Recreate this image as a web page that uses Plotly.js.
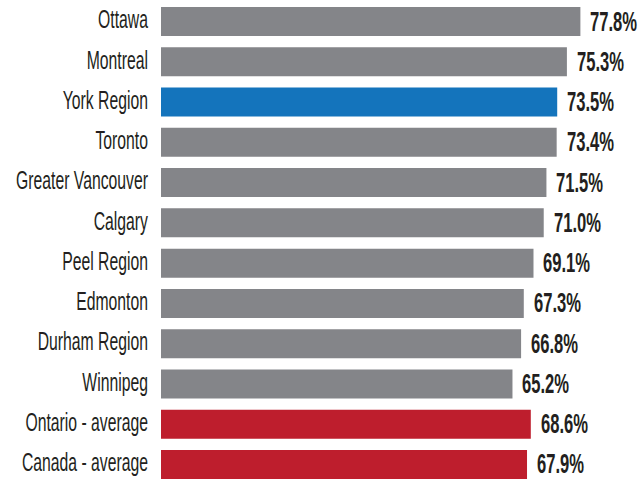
<!DOCTYPE html>
<html>
<head>
<meta charset="utf-8">
<script src="https://cdn.plot.ly/plotly-3.0.1.min.js"></script>
<style>
  html, body { margin: 0; padding: 0; background: #ffffff; }
  #chart { width: 644px; height: 482px; }
</style>
</head>
<body>
<div id="chart"></div>
<script>
const categories = ["Ottawa", "Montreal", "York Region", "Toronto", "Greater Vancouver", "Calgary",
  "Peel Region", "Edmonton", "Durham Region", "Winnipeg", "Ontario - average", "Canada - average"];
const values = [77.8, 75.3, 73.5, 73.4, 71.5, 71.0, 69.1, 67.3, 66.8, 65.2, 68.6, 67.9];
const valueLabels = ["77.8%", "75.3%", "73.5%", "73.4%", "71.5%", "71.0%", "69.1%", "67.3%", "66.8%", "65.2%", "68.6%", "67.9%"];
const barColors = ["#848589", "#848589", "#1474bc", "#848589", "#848589", "#848589",
  "#848589", "#848589", "#848589", "#848589", "#be1e2d", "#be1e2d"];

const FONT = "Liberation Sans, Arial, sans-serif";
const VAL_SIZE = 16.6;

const trace = {
  type: "bar",
  orientation: "h",
  x: values,
  y: categories,
  marker: { color: barColors },
  hoverinfo: "none"
};

const annotations = categories.map((c, i) => ({
  x: values[i], y: c, xref: "x", yref: "y",
  text: valueLabels[i], showarrow: false, align: "left",
  xanchor: "left", yanchor: "middle", xshift: 8, yshift: 0.5,
  font: { family: FONT, size: VAL_SIZE, color: "#231f20", weight: "bold" }
}));

const layout = {
  width: 644, height: 482,
  margin: { l: 161, r: 0, t: 0, b: 0, pad: 0 },
  paper_bgcolor: "#ffffff", plot_bgcolor: "#ffffff",
  showlegend: false,
  bargap: 0.28,
  xaxis: { range: [0, 89.6], visible: false, fixedrange: true },
  yaxis: {
    type: "category",
    range: [11.435, -0.534],
    showgrid: false, zeroline: false, showline: false,
    ticks: "", ticklabelstandoff: 12, ticklabelshift: 2,
    tickfont: { family: FONT, size: 25, color: "#231f20" }
  },
  annotations: annotations
};

function condense(selector, k) {
  document.querySelectorAll(selector).forEach(t => {
    const w = t.getComputedTextLength();
    t.setAttribute("textLength", (w * k).toFixed(2));
    t.setAttribute("lengthAdjust", "spacingAndGlyphs");
  });
}

function stretchY(selector, s, fs) {
  document.querySelectorAll(selector).forEach(t => {
    const y = parseFloat(t.getAttribute("y")) || 0;
    const cy = y - 0.36 * fs;
    t.setAttribute("transform", `translate(0 ${cy}) scale(1 ${s}) translate(0 ${-cy})`);
  });
}

Plotly.newPlot("chart", [trace], layout, { displayModeBar: false, staticPlot: true }).then(() => {
  condense("#chart .ytick text", 0.63);
  stretchY("#chart .annotation-text", 1.64, VAL_SIZE);
});
</script>
</body>
</html>
